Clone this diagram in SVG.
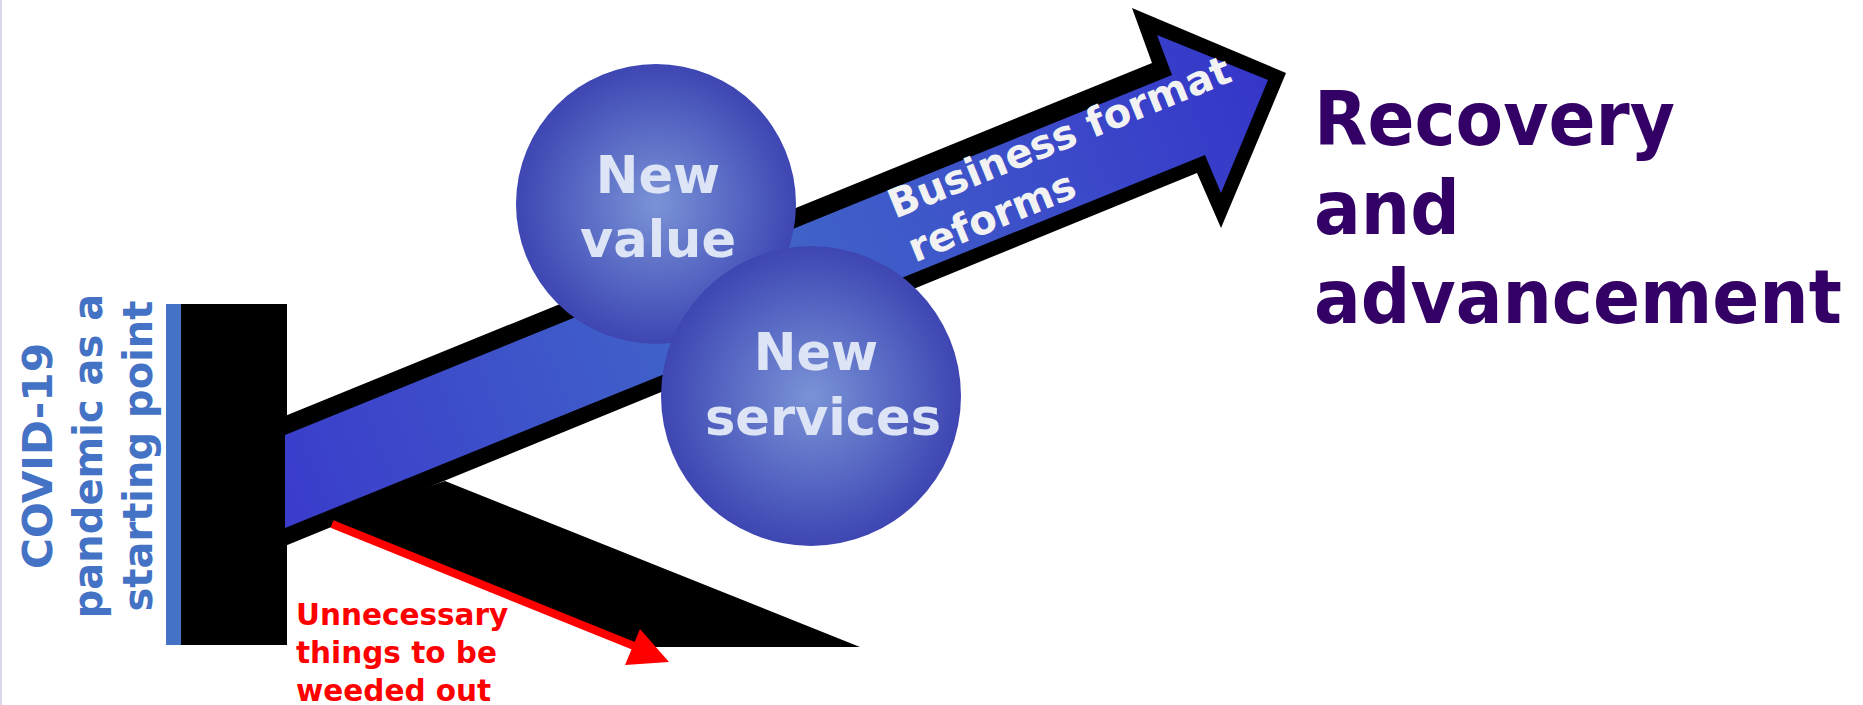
<svg xmlns="http://www.w3.org/2000/svg" width="1863" height="705" viewBox="0 0 1863 705">
  <defs>
    <linearGradient id="shaftGrad" gradientUnits="userSpaceOnUse" x1="285" y1="480" x2="1286" y2="80">
      <stop offset="0" stop-color="#3a3dcb"/>
      <stop offset="0.45" stop-color="#4168c8"/>
      <stop offset="0.7" stop-color="#3d52c9"/>
      <stop offset="1" stop-color="#3434c8"/>
    </linearGradient>
    <radialGradient id="ballGrad" cx="0.5" cy="0.5" r="0.5">
      <stop offset="0" stop-color="#7a93d6"/>
      <stop offset="0.6" stop-color="#5565c2"/>
      <stop offset="1" stop-color="#3e46b2"/>
    </radialGradient>
    <style>
      .b { font-family: "DejaVu Sans", Verdana, sans-serif; font-weight: bold; }
      .ball-text { fill: #dce4f5; font-size: 51px; text-anchor: middle; }
      .start { fill: #4472c4; font-size: 40px; text-anchor: middle; }
      .goal { fill: #330066; font-size: 75px; }
      .shaft-text { fill: #f2f2f2; font-size: 40px; }
      .weed { fill: #ff0000; font-size: 29.5px; }
    </style>
  </defs>

  <rect x="0" y="0" width="2" height="705" fill="#ddd5ea"/>

  <g id="start-bar">
    <rect x="166" y="304" width="15" height="341" fill="#4472c4"/>
    <rect x="181" y="304" width="106" height="341" fill="#000000"/>
  </g>

  <g id="tail">
    <polygon points="330,521 445,481 860,647 636,647" fill="#000000"/>
  </g>

  <g id="arrow">
    <polygon points="280,418 1152,63 1132,8 1286,73 1221,228 1197,173 280,548" fill="#000000"/>
    <polygon points="285,435 1172,75 1157,35 1268,80 1221,193 1205,155 285,528" fill="url(#shaftGrad)"/>
    <g transform="translate(895,219) rotate(-22.2)">
      <text class="b shaft-text" x="0" y="0">Business format</text>
      <text class="b shaft-text" x="2" y="48">reforms</text>
    </g>
  </g>

  <g id="circle-value">
    <circle cx="656" cy="204" r="140" fill="url(#ballGrad)"/>
    <text class="b ball-text" x="658" y="193">New</text>
    <text class="b ball-text" x="658" y="257">value</text>
  </g>

  <g id="circle-services">
    <circle cx="811" cy="396" r="150" fill="url(#ballGrad)"/>
    <text class="b ball-text" x="816" y="370">New</text>
    <text class="b ball-text" x="823" y="435">services</text>
  </g>

  <g id="label-start" transform="translate(52,456) rotate(-90)">
    <text class="b start" x="0" y="0" font-size="42" textLength="226" lengthAdjust="spacingAndGlyphs">COVID-19</text>
    <text class="b start" x="0" y="50">pandemic as a</text>
    <text class="b start" x="0" y="100">starting point</text>
  </g>

  <g id="label-goal" transform="translate(1314,0) scale(0.925,1)">
    <text class="b goal" x="0" y="145">Recovery</text>
    <text class="b goal" x="0" y="234">and</text>
    <text class="b goal" x="0" y="323">advancement</text>
  </g>

  <g id="connectors">
    <line x1="332" y1="524" x2="634" y2="646" stroke="#ff0000" stroke-width="8"/>
    <polygon points="640,629 669,662 625,665" fill="#ff0000"/>
  </g>

  <g id="label-weed">
    <text class="b weed" x="296" y="625">Unnecessary</text>
    <text class="b weed" x="296" y="663">things to be</text>
    <text class="b weed" x="296" y="701">weeded out</text>
  </g>
</svg>
